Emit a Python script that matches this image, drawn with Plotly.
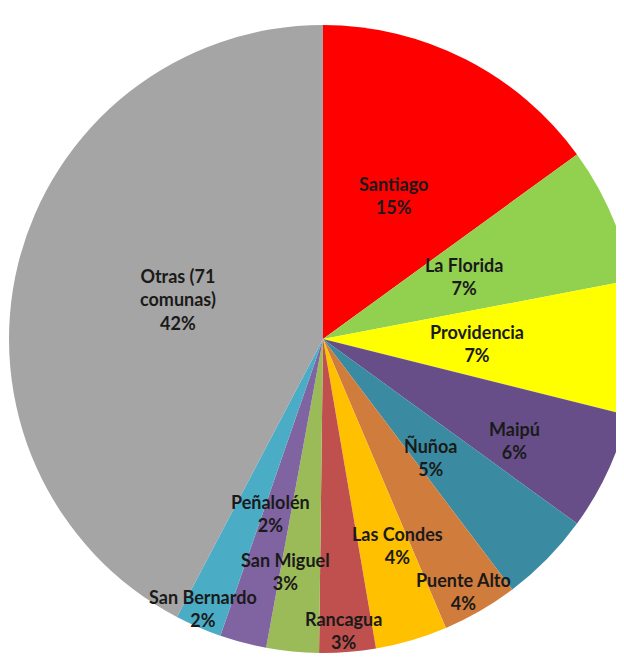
import math
import plotly.graph_objects as go

comunas = ["Santiago", "La Florida", "Providencia", "Maipú", "Ñuñoa", "Puente Alto",
           "Las Condes", "Rancagua", "San Miguel", "Peñalolén", "San Bernardo",
           "Otras (71 comunas)"]
text_labels = ["Santiago", "La Florida", "Providencia", "Maipú", "Ñuñoa", "Puente Alto",
               "Las Condes", "Rancagua", "San Miguel", "Peñalolén", "San Bernardo",
               "Otras (71<br>comunas)"]
porcentajes = [15.0, 7.0, 6.9, 6.1, 4.7, 3.9, 3.7, 2.9, 2.7, 2.4, 2.4, 42.3]
colores = ["#FF0000", "#92D050", "#FFFF00", "#674E88", "#3A8BA1", "#D07C3C",
           "#FFC000", "#C0504D", "#9BBB59", "#8064A2", "#4BACC6", "#A5A5A5"]
# label placement (style only): fraction of radius and angular nudge in degrees
label_radius = [0.51, 0.49, 0.49, 0.69, 0.51, 0.92, 0.70, 0.93, 0.75, 0.58, 0.94, 0.48]
label_nudge = [-1.0, -0.5, 0.0, 3.0, 3.5, 1.0, -3.5, 0.5, 3.5, 2.0, 0.5, 1.5]

fig = go.Figure(go.Pie(
    labels=comunas,
    values=porcentajes,
    sort=False,
    direction="clockwise",
    rotation=0,
    marker=dict(colors=colores, line=dict(width=0)),
    textinfo="none",
    hoverinfo="label+percent",
    showlegend=False,
    domain=dict(x=[0, 1], y=[0, 1]),
))

# labels placed at each slice's mid-angle, computed from the data
total = sum(porcentajes)
cum = 0.0
annotations = []
for name, val, frac, nudge in zip(text_labels, porcentajes, label_radius, label_nudge):
    mid = (cum + val / 2) / total * 2 * math.pi + math.radians(nudge)
    cum += val
    pct = round(val / total * 100)
    annotations.append(dict(
        x=0.5 + 0.5 * frac * math.sin(mid),
        y=0.5 + 0.5 * frac * math.cos(mid),
        xref="paper", yref="paper",
        text=f"{name}<br>{pct}%",
        showarrow=False,
        xanchor="center", yanchor="middle",
        font=dict(family="Lato", size=18, color="#1a1a1a", weight="bold"),
    ))

fig.update_layout(
    width=629, height=645,
    margin=dict(l=1, r=0, t=17, b=0),
    paper_bgcolor="white",
    annotations=annotations,
)

fig.write_html("out.html")
